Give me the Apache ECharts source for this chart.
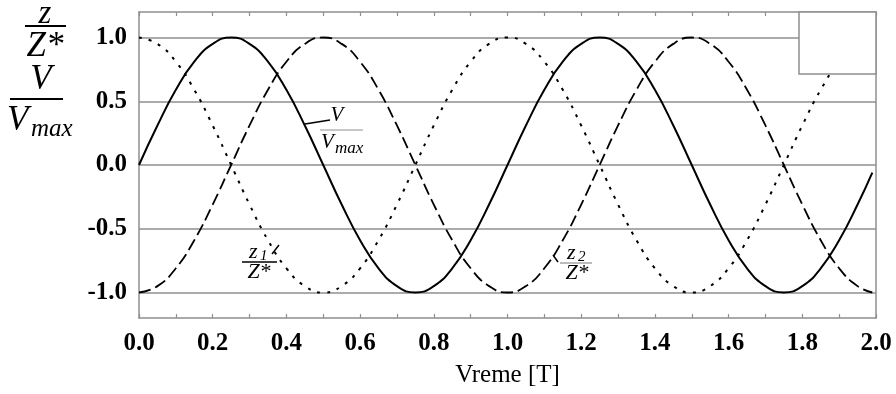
<!DOCTYPE html>
<html>
<head>
<meta charset="utf-8">
<script src="https://cdn.jsdelivr.net/npm/echarts@6/dist/echarts.min.js"></script>
<style>
  html, body { margin: 0; padding: 0; background: #fff; }
  #chart { width: 896px; height: 394px; }
</style>
</head>
<body>
<div id="chart"></div>
<script>
// Time in periods T
const time = [0.00, 0.05, 0.10, 0.15, 0.20, 0.25, 0.30, 0.35, 0.40, 0.45,
              0.50, 0.55, 0.60, 0.65, 0.70, 0.75, 0.80, 0.85, 0.90, 0.95,
              1.00, 1.05, 1.10, 1.15, 1.20, 1.25, 1.30, 1.35, 1.40, 1.45,
              1.50, 1.55, 1.60, 1.65, 1.70, 1.75, 1.80, 1.85, 1.90, 1.95, 1.99];

// Normalised velocity V / Vmax (solid)
const velocity = [0.00, 0.31, 0.59, 0.81, 0.95, 1.00, 0.95, 0.81, 0.59, 0.31,
                  0.00, -0.31, -0.59, -0.81, -0.95, -1.00, -0.95, -0.81, -0.59, -0.31,
                  0.00, 0.31, 0.59, 0.81, 0.95, 1.00, 0.95, 0.81, 0.59, 0.31,
                  0.00, -0.31, -0.59, -0.81, -0.95, -1.00, -0.95, -0.81, -0.59, -0.31, -0.06];

// Normalised displacement z1 / Z* (dotted)
const displacement1 = [1.00, 0.95, 0.81, 0.59, 0.31, 0.00, -0.31, -0.59, -0.81, -0.95,
                       -1.00, -0.95, -0.81, -0.59, -0.31, 0.00, 0.31, 0.59, 0.81, 0.95,
                       1.00, 0.95, 0.81, 0.59, 0.31, 0.00, -0.31, -0.59, -0.81, -0.95,
                       -1.00, -0.95, -0.81, -0.59, -0.31, 0.00, 0.31, 0.59, 0.81, 0.95, 1.00];

// Normalised displacement z2 / Z* (dashed)
const displacement2 = [-1.00, -0.95, -0.81, -0.59, -0.31, 0.00, 0.31, 0.59, 0.81, 0.95,
                       1.00, 0.95, 0.81, 0.59, 0.31, 0.00, -0.31, -0.59, -0.81, -0.95,
                       -1.00, -0.95, -0.81, -0.59, -0.31, 0.00, 0.31, 0.59, 0.81, 0.95,
                       1.00, 0.95, 0.81, 0.59, 0.31, 0.00, -0.31, -0.59, -0.81, -0.95, -1.00];

const yTicks = [-1.0, -0.5, 0.0, 0.5, 1.0];
const xTitle = 'Vreme [T]';

const pairs = (vals) => time.map((t, i) => [t, vals[i]]);

const TIMES = '"Liberation Serif", "Times New Roman", serif';
const GRAY = '#8f8f8f';

const chart = echarts.init(document.getElementById('chart'), null, { renderer: 'canvas' });

const lineBase = {
  type: 'line',
  showSymbol: false,
  smooth: 0.5,
  animation: false,
  silent: true,
  xAxisIndex: 0,
  yAxisIndex: 0
};

const frameLine = { show: true, onZero: false, lineStyle: { color: GRAY, width: 1.5 } };
const tickStyle = { show: true, inside: true, length: 4, lineStyle: { color: GRAY, width: 1.2 } };

chart.setOption({
  animation: false,
  backgroundColor: '#fff',
  grid: { left: 139, right: 20, top: 12, bottom: 76, containLabel: false },
  xAxis: [
    {
      type: 'value', min: 0, max: 2, interval: 0.1, position: 'bottom',
      axisLine: frameLine,
      axisTick: tickStyle,
      splitLine: { show: false },
      axisLabel: {
        color: '#000', fontFamily: TIMES, fontWeight: 'bold', fontSize: 25, margin: 13,
        formatter: (v) => (Math.round(v * 10) % 2 === 0 ? v.toFixed(1) : '')
      },
      name: xTitle, nameLocation: 'middle', nameGap: 45,
      nameTextStyle: { color: '#000', fontFamily: TIMES, fontSize: 25 }
    },
    {
      type: 'value', min: 0, max: 2, interval: 0.1, position: 'top',
      axisLine: frameLine,
      axisTick: tickStyle,
      splitLine: { show: false },
      axisLabel: { show: false }
    }
  ],
  yAxis: [
    {
      type: 'value', min: -1.2, max: 1.2, position: 'left',
      axisLine: frameLine,
      axisTick: { show: false, customValues: yTicks },
      splitLine: { show: true, lineStyle: { color: GRAY, width: 1.5 } },
      axisLabel: {
        customValues: yTicks,
        color: '#000', fontFamily: TIMES, fontWeight: 'bold', fontSize: 25, margin: 12,
        formatter: (v) => v.toFixed(1)
      }
    },
    {
      type: 'value', min: -1.2, max: 1.2, position: 'right',
      axisLine: frameLine,
      axisTick: { show: false },
      splitLine: { show: false },
      axisLabel: { show: false }
    }
  ],
  series: [
    Object.assign({}, lineBase, {
      name: 'V/Vmax', data: pairs(velocity),
      lineStyle: { color: '#000', width: 2, type: 'solid' }
    }),
    Object.assign({}, lineBase, {
      name: 'z1/Z*', data: pairs(displacement1),
      lineStyle: { color: '#000', width: 2, type: [3, 7] }
    }),
    Object.assign({}, lineBase, {
      name: 'z2/Z*', data: pairs(displacement2),
      lineStyle: { color: '#000', width: 1.8, type: [12, 5] }
    })
  ],
  graphic: [
    // empty key box in the upper right corner
    { type: 'rect', z: 100, shape: { x: 799, y: 12, width: 77, height: 62 },
      style: { fill: '#fff', stroke: GRAY, lineWidth: 1.5 } },

    // axis quantity: z / Z*
    { type: 'text', z: 100, style: { x: 45, y: 31, text: 'z', font: 'italic 33px ' + TIMES, fill: '#000', align: 'center', verticalAlign: 'bottom' } },
    { type: 'line', z: 100, shape: { x1: 25, y1: 26, x2: 66, y2: 26 }, style: { stroke: '#000', lineWidth: 2 } },
    { type: 'text', z: 100, style: { x: 45, y: 29, text: 'Z*', font: 'italic 35px ' + TIMES, fill: '#000', align: 'center', verticalAlign: 'top' } },

    // axis quantity: V / Vmax
    { type: 'text', z: 100, style: { x: 41, y: 62, text: 'V', font: 'italic 35px ' + TIMES, fill: '#000', align: 'center', verticalAlign: 'top' } },
    { type: 'line', z: 100, shape: { x1: 10, y1: 99, x2: 63, y2: 99 }, style: { stroke: '#000', lineWidth: 2 } },
    { type: 'text', z: 100, style: { x: 7, y: 103, text: 'V', font: 'italic 35px ' + TIMES, fill: '#000', align: 'left', verticalAlign: 'top' } },
    { type: 'text', z: 100, style: { x: 31, y: 117, text: 'max', font: 'italic 25px ' + TIMES, fill: '#000', align: 'left', verticalAlign: 'top' } },

    // curve annotation: V / Vmax
    { type: 'line', z: 100, shape: { x1: 305, y1: 124, x2: 330, y2: 120 }, style: { stroke: '#000', lineWidth: 1.5 } },
    { type: 'text', z: 100, style: { x: 337, y: 105, text: 'V', font: 'italic 21px ' + TIMES, fill: '#000', align: 'center', verticalAlign: 'top' } },
    { type: 'line', z: 100, shape: { x1: 320, y1: 130, x2: 363, y2: 130 }, style: { stroke: GRAY, lineWidth: 1.2 } },
    { type: 'text', z: 100, style: { x: 321, y: 132, text: 'V', font: 'italic 21px ' + TIMES, fill: '#000', align: 'left', verticalAlign: 'top' } },
    { type: 'text', z: 100, style: { x: 335, y: 140, text: 'max', font: 'italic 17px ' + TIMES, fill: '#000', align: 'left', verticalAlign: 'top' } },

    // curve annotation: z1 / Z*
    { type: 'line', z: 100, shape: { x1: 272, y1: 254, x2: 279, y2: 245 }, style: { stroke: '#000', lineWidth: 1.5 } },
    { type: 'text', z: 100, style: { x: 249, y: 241, text: 'z', font: 'italic 22px ' + TIMES, fill: '#000', align: 'left', verticalAlign: 'top' } },
    { type: 'text', z: 100, style: { x: 260, y: 249, text: '1', font: 'italic 15px ' + TIMES, fill: '#000', align: 'left', verticalAlign: 'top' } },
    { type: 'line', z: 100, shape: { x1: 242, y1: 262, x2: 277, y2: 262 }, style: { stroke: '#000', lineWidth: 1.5 } },
    { type: 'text', z: 100, style: { x: 259, y: 261, text: 'Z*', font: 'italic 22px ' + TIMES, fill: '#000', align: 'center', verticalAlign: 'top' } },

    // curve annotation: z2 / Z*
    { type: 'line', z: 100, shape: { x1: 553, y1: 255, x2: 558, y2: 262 }, style: { stroke: '#000', lineWidth: 1.5 } },
    { type: 'text', z: 100, style: { x: 567, y: 242, text: 'z', font: 'italic 22px ' + TIMES, fill: '#000', align: 'left', verticalAlign: 'top' } },
    { type: 'text', z: 100, style: { x: 578, y: 250, text: '2', font: 'italic 15px ' + TIMES, fill: '#000', align: 'left', verticalAlign: 'top' } },
    { type: 'line', z: 100, shape: { x1: 560, y1: 263, x2: 592, y2: 263 }, style: { stroke: GRAY, lineWidth: 1.2 } },
    { type: 'text', z: 100, style: { x: 577, y: 262, text: 'Z*', font: 'italic 22px ' + TIMES, fill: '#000', align: 'center', verticalAlign: 'top' } }
  ]
});
</script>
</body>
</html>
